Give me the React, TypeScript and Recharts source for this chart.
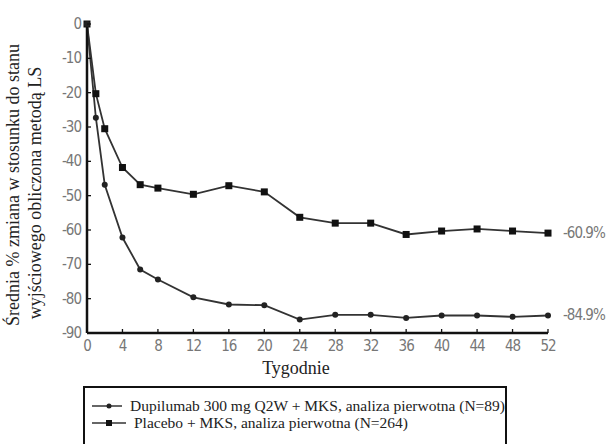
import React from 'react';
import { LineChart, Line, XAxis, YAxis, LabelList } from 'recharts';

const weeks = [0, 1, 2, 4, 6, 8, 12, 16, 20, 24, 28, 32, 36, 40, 44, 48, 52];
const dupilumab = [0, -27.3, -46.8, -62.2, -71.5, -74.4, -79.6, -81.7, -81.9, -86.1, -84.7, -84.7, -85.6, -84.9, -84.9, -85.3, -84.9];
const placebo = [0, -20.3, -30.5, -41.8, -46.8, -47.8, -49.6, -47.1, -48.9, -56.3, -58.0, -58.0, -61.3, -60.3, -59.7, -60.3, -60.9];
const xTicks = [0, 4, 8, 12, 16, 20, 24, 28, 32, 36, 40, 44, 48, 52];
const yTicks = [0, -10, -20, -30, -40, -50, -60, -70, -80, -90];
const endLabels = { dupilumab: '-84.9%', placebo: '-60.9%' };
const yTitle = ['Średnia % zmiana w stosunku do stanu', 'wyjściowego obliczona metodą LS'];
const legendItems = [
  'Dupilumab 300 mg Q2W + MKS, analiza pierwotna (N=89)',
  'Placebo + MKS, analiza pierwotna (N=264)'
];

const data = weeks.map((w, i) => ({ week: w, dupilumab: dupilumab[i], placebo: placebo[i] }));

const TICK_FONT = '"Liberation Sans Narrow", "DejaVu Sans Condensed", "Liberation Sans", sans-serif';
const SERIF = '"Liberation Serif", "Times New Roman", Times, "DejaVu Serif", "Noto Serif", serif';

const SquareDot = (props: any) => {
  const { cx, cy } = props;
  if (cx == null || cy == null) return null;
  return <rect x={cx - 3.5} y={cy - 3.5} width={7} height={7} fill="#111" />;
};

const CircleDot = (props: any) => {
  const { cx, cy } = props;
  if (cx == null || cy == null) return null;
  return <circle cx={cx} cy={cy} r={3} fill="#222" />;
};

// tick label plus a short tick pointing into the plot
const XTick = (props: any) => {
  const { x, y, payload } = props;
  return (
    <g>
      <line x1={x} y1={y - 10} x2={x} y2={y - 14} stroke="#111" strokeWidth={1.3} />
      <text x={x} y={y} dy={8} textAnchor="middle" fill="#777" fontSize={15} letterSpacing={-1} fontFamily={TICK_FONT}>
        {payload.value}
      </text>
    </g>
  );
};

const YTick = (props: any) => {
  const { x, y, payload } = props;
  return (
    <g>
      <line x1={x + 6} y1={y} x2={x + 10} y2={y} stroke="#111" strokeWidth={1.3} />
      <text x={x} y={y} dy={5} textAnchor="end" fill="#777" fontSize={15} letterSpacing={-1} fontFamily={TICK_FONT}>
        {payload.value}
      </text>
    </g>
  );
};

const endLabel = (text: string) => (props: any) => {
  const { x, y, index } = props;
  if (index !== weeks.length - 1) return null;
  return (
    <text x={x + 15} y={y} dy={5} fontSize={15} letterSpacing={-1} fill="#777" fontFamily={TICK_FONT}>
      {text}
    </text>
  );
};

export default function App() {
  return (
    <div style={{ position: 'absolute', left: 0, top: 0, width: 609, height: 444, background: '#fff' }}>
      <LineChart
        width={609}
        height={444}
        data={data}
        margin={{ top: 24, right: 61, left: 27, bottom: 81 }}
      >
        <XAxis
          dataKey="week"
          type="number"
          domain={[0, 52]}
          ticks={xTicks}
          interval={0}
          height={30}
          axisLine={{ stroke: '#111', strokeWidth: 2.5 }}
          tickLine={false}
          tickSize={0}
          tickMargin={10}
          tick={<XTick />}
        />
        <YAxis
          type="number"
          domain={[-90, 0]}
          ticks={yTicks}
          interval={0}
          width={60}
          axisLine={{ stroke: '#111', strokeWidth: 2.5 }}
          tickLine={false}
          tickSize={0}
          tickMargin={6}
          tick={<YTick />}
        />
        <Line
          dataKey="placebo"
          type="linear"
          stroke="#333"
          strokeWidth={1.8}
          dot={<SquareDot />}
          activeDot={false}
          isAnimationActive={false}
        >
          <LabelList dataKey="placebo" content={endLabel(endLabels.placebo)} />
        </Line>
        <Line
          dataKey="dupilumab"
          type="linear"
          stroke="#333"
          strokeWidth={1.8}
          dot={<CircleDot />}
          activeDot={false}
          isAnimationActive={false}
        >
          <LabelList dataKey="dupilumab" content={endLabel(endLabels.dupilumab)} />
        </Line>
      </LineChart>
      <svg width={609} height={444} style={{ position: 'absolute', left: 0, top: 0, pointerEvents: 'none' }}>
        <text transform="translate(19,185) rotate(-90)" textAnchor="middle" fontFamily={SERIF} fontSize={18} fill="#222">
          {yTitle[0]}
        </text>
        <text transform="translate(41,193) rotate(-90)" textAnchor="middle" fontFamily={SERIF} fontSize={18} fill="#222">
          {yTitle[1]}
        </text>
        <text x={296} y={374} textAnchor="middle" fontFamily={SERIF} fontSize={18} fill="#222">
          Tygodnie
        </text>
      </svg>
      <div
        style={{
          position: 'absolute',
          left: 83,
          top: 386,
          width: 424,
          height: 70,
          border: '2.5px solid #111',
          boxSizing: 'border-box',
          fontFamily: SERIF,
          fontSize: 15.5,
          color: '#222',
          padding: '9px 0 0 7px',
          lineHeight: '17px'
        }}
      >
        {legendItems.map((t, i) => (
          <div key={t} style={{ display: 'flex', alignItems: 'center', whiteSpace: 'nowrap' }}>
            <svg width={34} height={10} style={{ marginRight: 8 }}>
              <line x1={0} y1={5} x2={34} y2={5} stroke="#333" strokeWidth={1.5} />
              {i === 0 ? <circle cx={17} cy={5} r={2.5} fill="#222" /> : <rect x={14} y={2} width={6} height={6} fill="#111" />}
            </svg>
            <span>{t}</span>
          </div>
        ))}
      </div>
    </div>
  );
}
